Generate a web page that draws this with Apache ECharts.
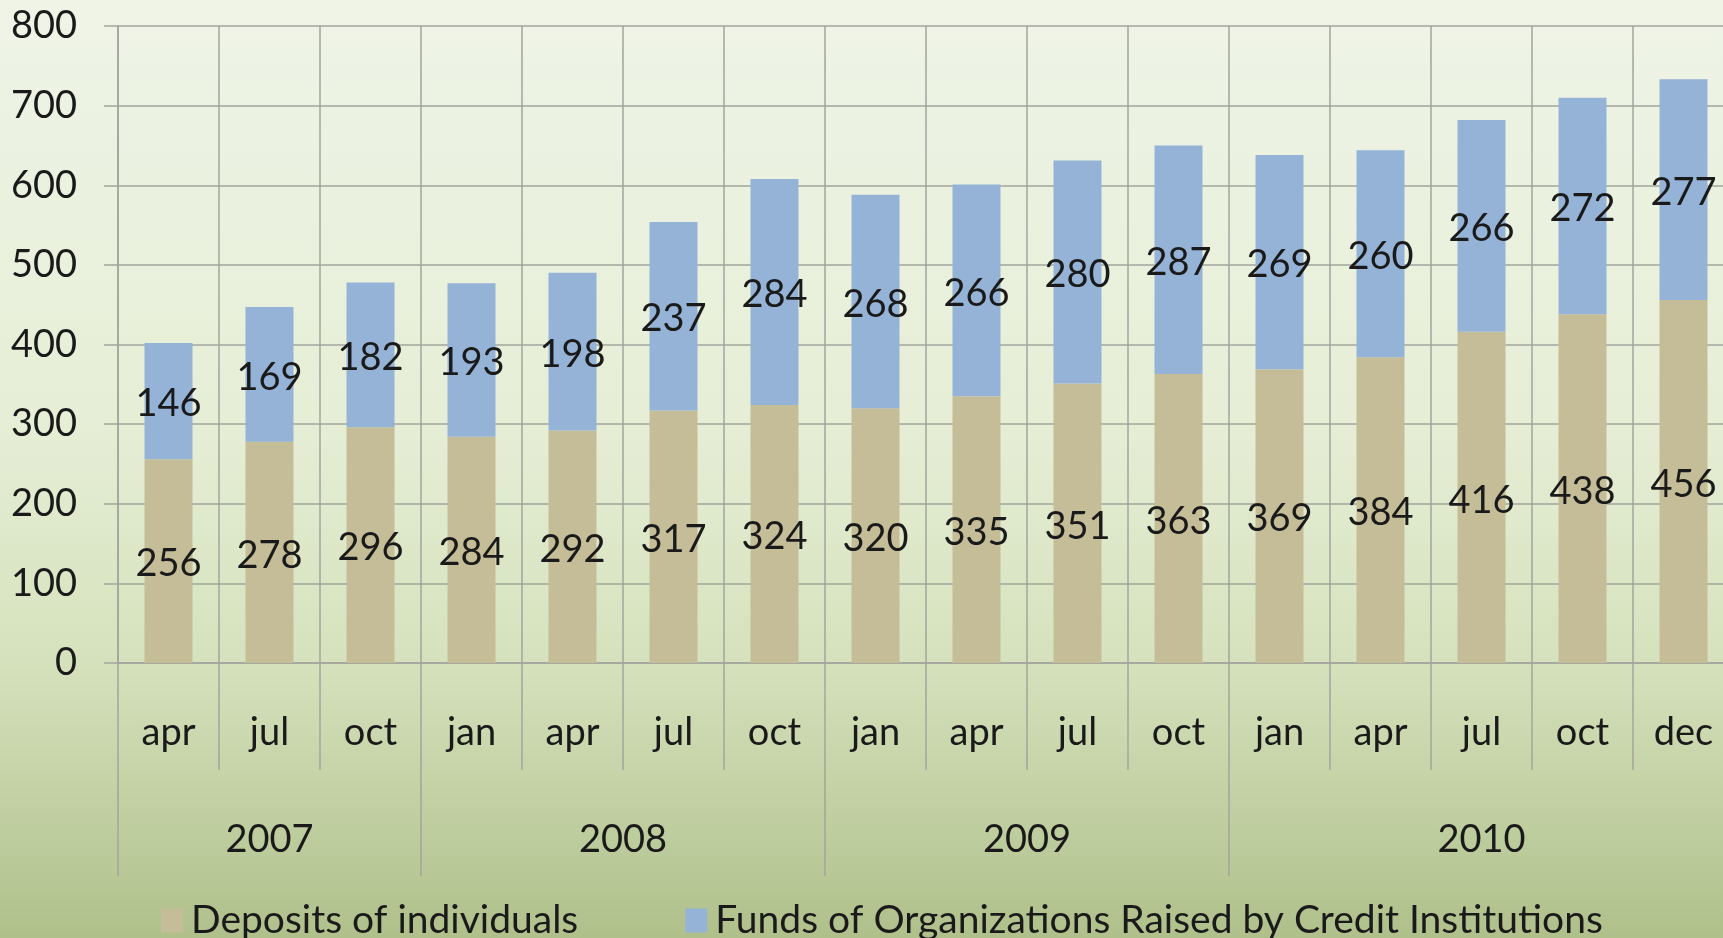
<!DOCTYPE html>
<html lang="en" style="height: 100%">

<head>
    <meta charset="utf-8" />
    <script src="https://cdn.jsdelivr.net/npm/echarts@6/dist/echarts.min.js"></script>
</head>

<body style="height: 100%; margin: 0">
    <div id="container" style="width: 1723px;height: 938px;"></div>
    <script type="text/javascript">
        // data
        const months = ['apr', 'jul', 'oct', 'jan', 'apr', 'jul', 'oct', 'jan',
            'apr', 'jul', 'oct', 'jan', 'apr', 'jul', 'oct', 'dec'];
        const years = ['2007', '2008', '2009', '2010'];
        const yearSpans = [3, 4, 4, 5];
        const deposits = [256, 278, 296, 284, 292, 317, 324, 320, 335, 351, 363, 369, 384, 416, 438, 456];
        const funds = [146, 169, 182, 193, 198, 237, 284, 268, 266, 280, 287, 269, 260, 266, 272, 277];
        const yTicks = [0, 100, 200, 300, 400, 500, 600, 700, 800];

        const colors = ['#C4BD97', '#95B3D7'];
        const gridGray = '#a2a59c';
        const fontFamily = 'Lato, "Noto Sans", sans-serif';

        // year axis: half-category slots, labels at group centres, ticks at group edges
        const yearSlots = [];
        const yearLabelAt = {};
        const yearEdgeAt = {};
        (function () {
            let pos = 0;
            yearEdgeAt[0] = true;
            for (let i = 0; i < years.length; i++) {
                yearLabelAt[pos + yearSpans[i]] = years[i];
                pos += yearSpans[i] * 2;
                yearEdgeAt[pos] = true;
            }
            for (let k = 0; k <= pos; k++) {
                yearSlots.push(yearLabelAt[k] || ('s' + k));
            }
        })();

        var dom = document.getElementById('container');
        var myChart = echarts.init(dom, null, {
            renderer: 'canvas'
        });

        var option = {
            backgroundColor: new echarts.graphic.LinearGradient(0, 0, 0, 1, [
                { offset: 0, color: '#eff4e7' },
                { offset: 0.45, color: '#e6eed6' },
                { offset: 0.7, color: '#d6e2bd' },
                { offset: 1, color: '#afc08b' }
            ]),
            color: colors,
            textStyle: {
                fontFamily: fontFamily
            },
            grid: {
                left: 118,
                top: 26,
                width: 1616,
                height: 637,
                outerBoundsMode: 'none'
            },
            legend: {
                left: 161,
                top: 901,
                padding: 0,
                itemWidth: 22,
                itemHeight: 24,
                itemGap: 107,
                icon: 'rect',
                textStyle: {
                    fontSize: 39,
                    color: '#1a1a1a',
                    padding: [0, 0, 0, 3]
                },
                data: ['Deposits of individuals', 'Funds of Organizations Raised by Credit Institutions']
            },
            xAxis: [{
                    type: 'category',
                    data: months,
                    boundaryGap: true,
                    axisLine: {
                        show: true,
                        lineStyle: { color: gridGray, width: 1.5 }
                    },
                    axisTick: {
                        show: true,
                        interval: 0,
                        length: 107,
                        lineStyle: { color: gridGray, width: 1.5 }
                    },
                    axisLabel: {
                        interval: 0,
                        margin: 51,
                        fontSize: 38,
                        color: '#1a1a1a'
                    },
                    splitLine: {
                        show: true,
                        interval: 0,
                        lineStyle: { color: gridGray, width: 1.5 }
                    }
                },
                {
                    type: 'category',
                    data: yearSlots,
                    boundaryGap: false,
                    position: 'bottom',
                    axisLine: { show: false },
                    axisTick: {
                        show: true,
                        length: 213,
                        interval: function (index) {
                            return !!yearEdgeAt[index];
                        },
                        lineStyle: { color: gridGray, width: 1.5 }
                    },
                    axisLabel: {
                        margin: 158,
                        fontSize: 38,
                        color: '#1a1a1a',
                        interval: function (index) {
                            return !!yearLabelAt[index];
                        }
                    },
                    splitLine: { show: false }
                }
            ],
            yAxis: {
                type: 'value',
                min: yTicks[0],
                max: yTicks[yTicks.length - 1],
                interval: 100,
                axisLine: {
                    show: true,
                    lineStyle: { color: gridGray, width: 1.5 }
                },
                axisTick: {
                    show: true,
                    length: 14,
                    lineStyle: { color: gridGray, width: 1.5 }
                },
                axisLabel: {
                    margin: 41,
                    fontSize: 38,
                    color: '#1a1a1a',
                    padding: [5, 0, 0, 0]
                },
                splitLine: {
                    show: true,
                    lineStyle: { color: gridGray, width: 1.5 }
                }
            },
            series: [{
                    name: 'Deposits of individuals',
                    type: 'bar',
                    stack: 'total',
                    barWidth: 48,
                    xAxisIndex: 0,
                    label: {
                        show: true,
                        position: 'inside',
                        offset: [0, 3],
                        fontSize: 38,
                        color: '#1a1a1a'
                    },
                    data: deposits
                },
                {
                    name: 'Funds of Organizations Raised by Credit Institutions',
                    type: 'bar',
                    stack: 'total',
                    barWidth: 48,
                    xAxisIndex: 0,
                    label: {
                        show: true,
                        position: 'inside',
                        offset: [0, 3],
                        fontSize: 38,
                        color: '#1a1a1a'
                    },
                    data: funds
                }
            ]
        };

        if (option && typeof option === 'object') {
            myChart.setOption(option);
        }

        window.addEventListener('resize', myChart.resize);
    </script>
</body>

</html>
